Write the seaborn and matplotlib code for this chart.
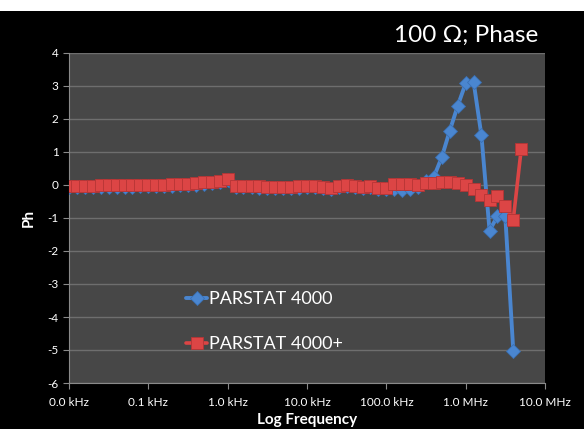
import matplotlib
matplotlib.use("Agg")
import matplotlib.pyplot as plt
import seaborn as sns
import pandas as pd
from matplotlib.patches import Rectangle

# ---- data ----
freq_hz = [
    10, 12.6, 15.8, 20.0, 25.1, 31.6, 39.8, 50.1, 63.1, 79.4,
    100, 126, 158, 200, 251, 316, 398, 501, 631, 794,
    1000, 1260, 1580, 2000, 2510, 3160, 3980, 5010, 6310, 7940,
    10000, 12600, 15800, 20000, 25100, 31600, 39800, 50100, 63100, 79400,
    100000, 126000, 158000, 200000, 251000, 316000, 398000, 501000, 631000, 794000,
    1000000, 1260000, 1580000, 2000000, 2510000, 3160000, 3980000, 5010000,
]

phase_4000plus = [
    -0.02, -0.02, -0.02, -0.02, -0.01, -0.01, -0.01, -0.01, -0.01, 0.00,
    0.00, 0.00, 0.01, 0.02, 0.03, 0.04, 0.05, 0.08, 0.10, 0.13,
    0.18, -0.02, -0.02, -0.03, -0.04, -0.05, -0.06, -0.07, -0.05, -0.04,
    -0.02, -0.02, -0.05, -0.08, -0.03, 0.00, -0.03, -0.06, -0.03, -0.08,
    -0.10, 0.03, 0.03, 0.02, 0.01, 0.05, 0.07, 0.08, 0.08, 0.05,
    0.00, -0.13, -0.30, -0.45, -0.33, -0.63, -1.05, 1.08,
]

phase_4000 = [
    -0.06, -0.06, -0.06, -0.06, -0.05, -0.05, -0.05, -0.05, -0.05, -0.04,
    -0.04, -0.04, -0.03, -0.02, -0.01, 0.00, 0.01, 0.04, 0.06, 0.09,
    0.14, -0.06, -0.06, -0.07, -0.08, -0.09, -0.10, -0.10, -0.09, -0.08,
    -0.06, -0.06, -0.09, -0.11, -0.07, -0.04, -0.07, -0.10, -0.07, -0.11,
    -0.13, -0.12, -0.14, -0.12, -0.05, 0.12, 0.25, 0.85, 1.65, 2.40,
    3.08, 3.12, 1.50, -1.38, -0.95, -0.95, -5.02,
]

series_names = ["PARSTAT 4000", "PARSTAT 4000+"]
x_ticks_hz = [10, 100, 1000, 10000, 100000, 1000000, 10000000]
x_tick_labels = ["0.0 kHz", "0.1 kHz", "1.0 kHz", "10.0 kHz", "100.0 kHz", "1.0 MHz", "10.0 MHz"]
y_ticks = [-6, -5, -4, -3, -2, -1, 0, 1, 2, 3, 4]

df_a = pd.DataFrame({"freq": freq_hz[:len(phase_4000)], "phase": phase_4000})
df_b = pd.DataFrame({"freq": freq_hz, "phase": phase_4000plus})

# ---- style ----
sns.set_style("dark")
plt.rcParams["font.family"] = ["Lato", "DejaVu Sans"]

fig = plt.figure(figsize=(5.84, 4.29), dpi=100, facecolor="black")
fig.patches.append(Rectangle((0, 1 - 11 / 429), 1, 11 / 429, transform=fig.transFigure,
                             facecolor="white", edgecolor="none", zorder=0))
ax = fig.add_axes([69 / 584, 1 - 383 / 429, (545 - 69) / 584, (383 - 53) / 429])
ax.set_facecolor("#474747")

blue = "#4A86D0"
red = "#DC4545"

sns.lineplot(data=df_a, x="freq", y="phase", ax=ax, color=blue, linewidth=2.8,
             marker="D", markersize=7, markerfacecolor=blue, markeredgecolor="#3A70B5",
             markeredgewidth=0.6, label=series_names[0], zorder=3)
sns.lineplot(data=df_b, x="freq", y="phase", ax=ax, color=red, linewidth=2.6,
             marker="s", markersize=9, markerfacecolor=red, markeredgecolor="#B53535",
             markeredgewidth=0.6, label=series_names[1], zorder=4)

ax.set_xscale("log")
ax.set_xlim(10, 10000000)
ax.set_ylim(-6, 4)
ax.set_xticks(x_ticks_hz)
ax.set_xticklabels(x_tick_labels)
ax.minorticks_off()
ax.set_yticks(y_ticks)
ax.set_yticklabels([str(v) for v in y_ticks])

ax.grid(axis="y", color="#6E6E6E", linewidth=1.0)
ax.grid(axis="x", visible=False)
ax.set_axisbelow(True)

for s in ["top", "right"]:
    ax.spines[s].set_visible(False)
for s in ["left", "bottom"]:
    ax.spines[s].set_color("#8A8A8A")
    ax.spines[s].set_linewidth(0.8)

ax.tick_params(axis="both", colors="white", labelsize=8.5, length=4, width=0.8,
               direction="out", color="#8A8A8A", bottom=True, left=True)
ax.tick_params(axis="x", pad=6)

ax.set_xlabel("Log Frequency", color="white", fontsize=11, fontweight="bold", labelpad=4)
ax.set_ylabel("Ph", color="white", fontsize=11, fontweight="bold", labelpad=8)

fig.text(538 / 584, 1 - 35 / 429, "100 \u03a9; Phase", color="white", fontsize=17.5,
         ha="right", va="center", family=["Lato", "DejaVu Sans"])

leg = ax.legend(loc="upper left", bbox_to_anchor=(0.23, 0.30), frameon=False,
                fontsize=13, labelcolor="white", handlelength=1.2, handletextpad=0.1,
                labelspacing=1.6, borderaxespad=0)

fig.savefig("out.png", dpi=100, facecolor=fig.get_facecolor())
